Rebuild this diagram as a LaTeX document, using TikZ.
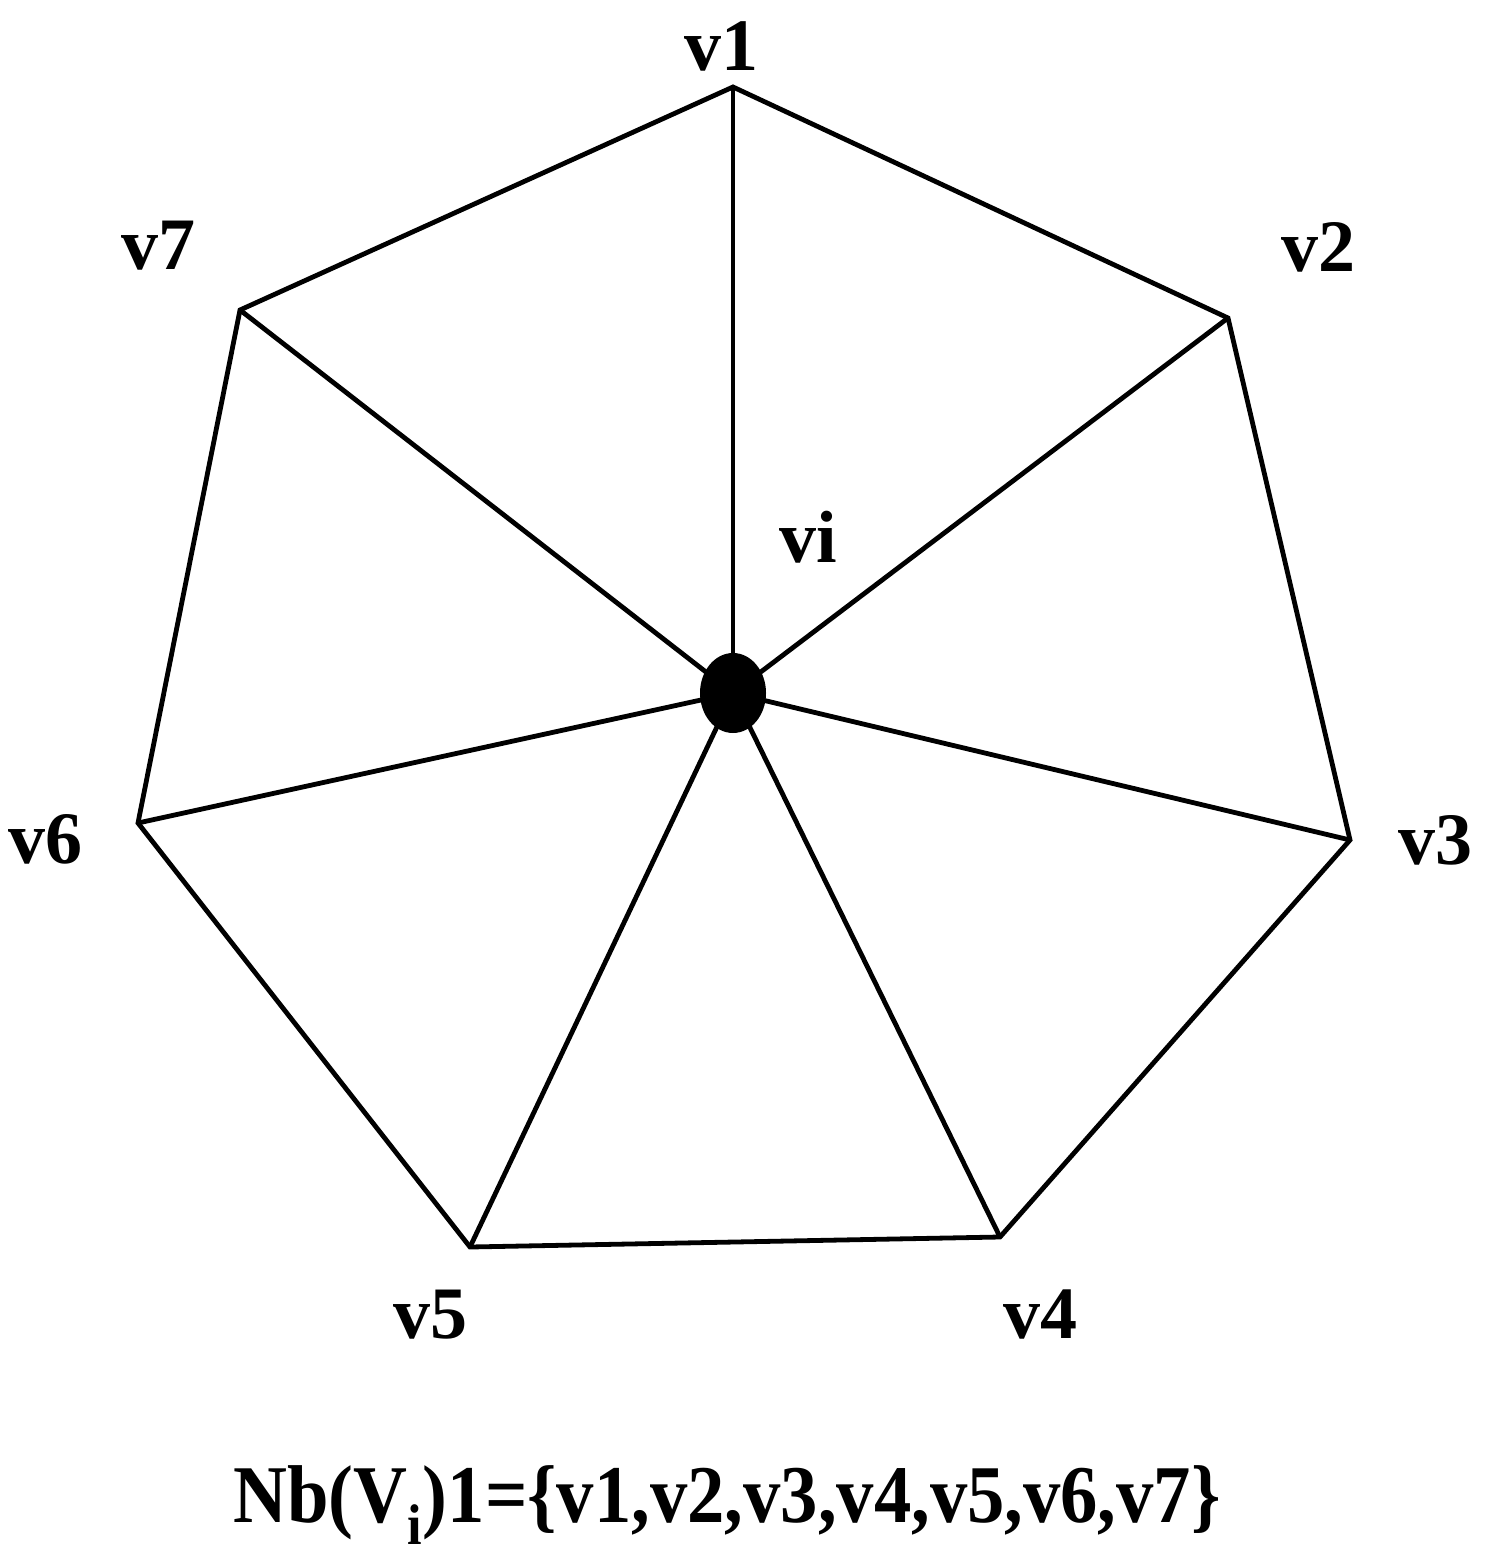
\documentclass[tikz,border=0pt]{standalone}
\usepackage{fontspec}
\usepackage{graphicx}
\setmainfont{Liberation Serif}
\usetikzlibrary{shapes.geometric}

\begin{document}
\begin{tikzpicture}[x=0.5pt, y=-0.5pt, line width=2.4pt,
    lab/.style={anchor=base, inner sep=0pt, font=\fontsize{37}{44}\selectfont\bfseries}]
                \useasboundingbox (0,0) rectangle (1495,1566);
                \coordinate (v1) at (733,87);
                \coordinate (v2) at (1228,318);
                \coordinate (v3) at (1350,840);
                \coordinate (v4) at (1000,1237);
                \coordinate (v5) at (470,1247);
                \coordinate (v6) at (138,823);
                \coordinate (v7) at (240,310);
                \node [ellipse, fill, inner sep=0pt, minimum width=33pt, minimum height=40pt] (vi) at (733,693) {};
                \draw (v1) -- (v2) -- (v3) -- (v4) -- (v5) -- (v6) -- (v7) -- cycle;
                \foreach \k in {1,...,7}
                    \draw (vi.center) -- (v\k);
                % labels
                \node [lab] (l1) at (721,71) {v1};
                \node [lab] (l2) at (1318,272) {v2};
                \node [lab] (l3) at (1435,864) {v3};
                \node [lab] (l4) at (1040,1338) {v4};
                \node [lab] (l5) at (430,1338) {v5};
                \node [lab] (l6) at (46,863) {v6};
                \node [lab] (l7) at (158,270) {v7};
                \node [lab] (li) at (808,562) {vi};
                \node [lab, font=\fontsize{41}{48}\selectfont\bfseries] (nb) at (727,1522) {\scalebox{0.91}[1]{Nb(V\textsubscript{i})1=\{v1,v2,v3,v4,v5,v6,v7\}}};
            \end{tikzpicture}
\end{document}
